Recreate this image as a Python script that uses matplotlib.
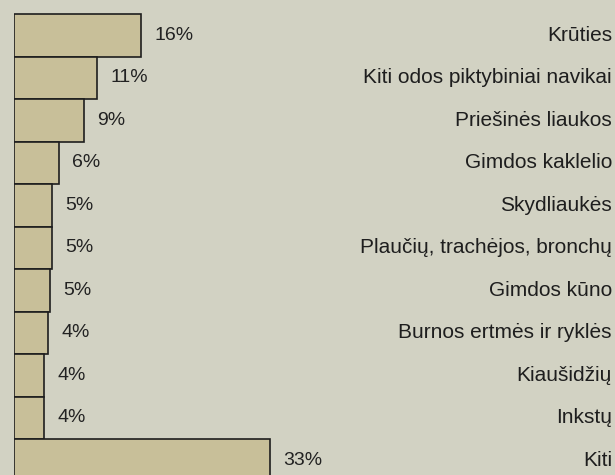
#coding:UTF-8
import numpy as np
import matplotlib.pyplot as plt
from matplotlib.transforms import blended_transform_factory

plt.rcParams['font.family'] = ['Liberation Sans', 'DejaVu Sans']

categories = ['Krūties', 'Kiti odos piktybiniai navikai', 'Priešinės liaukos',
              'Gimdos kaklelio', 'Skydliaukės', 'Plaučių, trachėjos, bronchų',
              'Gimdos kūno', 'Burnos ertmės ir ryklės', 'Kiaušidžių', 'Inkstų', 'Kiti']
shares = [16.4, 10.7, 9.0, 5.8, 4.9, 4.9, 4.6, 4.4, 3.9, 3.9, 33.0]

bg = '#d2d2c3'
bar_color = '#c8bf99'
W, H = 615, 475
row_px = 42.5
unit_px = 7.76

fig = plt.figure(figsize=(W / 100, H / 100), dpi=100, facecolor=bg)
ax = fig.add_axes([14 / W, 0, 1 - 14 / W, 1])
ax.set_facecolor(bg)

y = np.arange(len(categories))
ax.barh(y, shares, height=1.0, color=bar_color, edgecolor='#1e1e1e', linewidth=1.2)

ax.set_xlim(0, (W - 14) / unit_px)
top = -0.5 - 14 / row_px
ax.set_ylim(top + H / row_px, top)
ax.axis('off')

# percent labels just right of bars
for i, v in enumerate(shares):
    ax.annotate('%.0f%%' % v, (v, i), xytext=(9.5, 0), textcoords='offset points',
                va='center', ha='left', fontsize=14, color='#222222')

# category names on the right side
tr = blended_transform_factory(fig.transFigure, ax.transData)
for i, c in enumerate(categories):
    ax.text(612 / W, i, c, transform=tr, ha='right', va='center',
            fontsize=15, color='#1e1e1e')

plt.savefig('out.png', dpi=100, facecolor=bg)
